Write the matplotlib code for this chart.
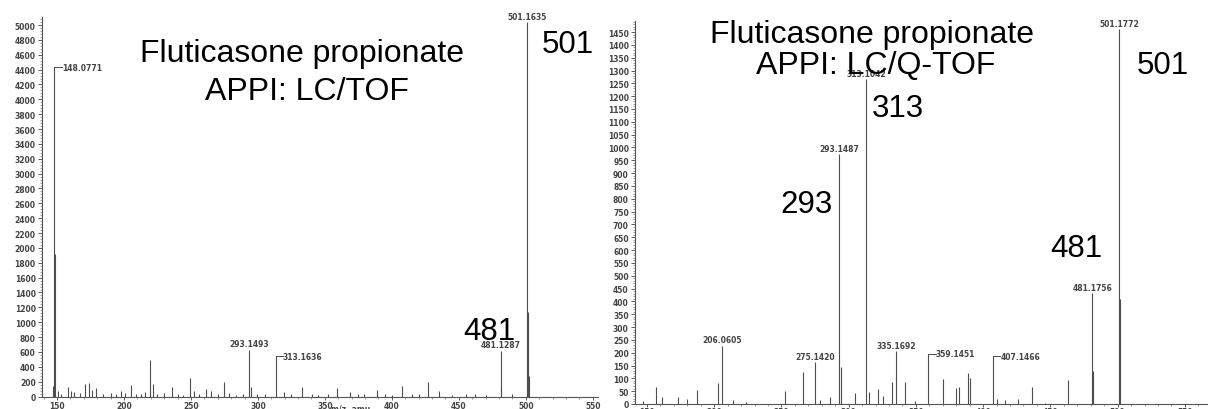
import matplotlib.pyplot as plt
from matplotlib.ticker import MultipleLocator

# ---- LC/TOF spectrum (left panel) ----
tof_mz = [147.0, 148.08, 148.6, 150.8, 153.0, 158.0, 160.7, 163.0, 167.0, 170.6,
          173.6, 176.0, 179.0, 184.0, 190.5, 194.0, 198.0, 201.0, 205.4, 209.0,
          212.8, 216.0, 219.5, 221.5, 225.0, 230.0, 235.6, 240.0, 244.0, 249.6,
          252.0, 256.0, 261.0, 265.0, 270.0, 274.9, 278.6, 284.0, 289.0, 293.15,
          294.6, 299.0, 305.0, 313.16, 319.6, 325.0, 333.0, 340.7, 345.0, 352.0,
          359.0, 369.0, 375.0, 379.0, 389.0, 395.0, 400.0, 407.7, 415.0, 420.0,
          427.0, 435.0, 445.0, 455.0, 462.3, 470.0, 481.13, 481.6, 490.0, 501.16,
          501.6, 502.17]
tof_int = [145, 4435, 1920, 78, 40, 132, 75, 60, 45, 168,
           177, 90, 114, 30, 50, 35, 78, 45, 155, 30,
           40, 60, 491, 168, 35, 50, 124, 30, 25, 245,
           70, 40, 101, 70, 30, 191, 50, 25, 35, 630,
           124, 30, 40, 541, 60, 30, 124, 30, 25, 40,
           114, 60, 30, 40, 87, 35, 25, 145, 40, 30,
           191, 70, 25, 30, 40, 25, 617, 124, 30, 5040,
           1137, 280]
tof_labels = {148.08: '148.0771', 293.15: '293.1493', 313.16: '313.1636',
              481.13: '481.1287', 501.16: '501.1635'}
tof_side = [148.08, 313.16]

# ---- LC/Q-TOF spectrum (right panel) ----
qtof_mz = [147.0, 157.0, 161.0, 173.0, 180.0, 187.0, 203.0, 206.06, 214.0, 224.0,
           253.0, 266.0, 275.14, 279.0, 286.0, 293.15, 294.6, 305.0, 313.10, 315.0,
           322.0, 325.5, 332.0, 335.17, 342.0, 349.0, 359.15, 370.0, 380.0, 382.0,
           389.0, 390.5, 407.15, 410.0, 416.0, 426.0, 436.0, 446.0, 463.0, 481.18,
           481.7, 501.18, 501.6]
qtof_int = [10, 65, 27, 27, 20, 54, 82, 226, 15, 8,
            52, 126, 163, 15, 27, 973, 144, 43, 1265, 45,
            58, 30, 87, 206, 86, 10, 195, 97, 62, 66,
            120, 100, 187, 20, 15, 20, 66, 5, 93, 432,
            128, 1460, 410]
qtof_labels = {206.06: '206.0605', 275.14: '275.1420', 293.15: '293.1487',
               313.10: '313.1042', 335.17: '335.1692', 359.15: '359.1451',
               407.15: '407.1466', 481.18: '481.1756', 501.18: '501.1772'}
qtof_side = [359.15, 407.15]

W, H = 1208, 410
fig = plt.figure(figsize=(W / 100, H / 100), dpi=100)
ax1 = fig.add_axes([42 / W, 12.5 / H, 556 / W, 379.5 / H])
ax2 = fig.add_axes([635 / W, 5 / H, 573 / W, 383 / H])

peak_color = '#4d4d4d'
big = dict(family='Liberation Sans', color='black', ha='center', va='baseline', clip_on=False)


def draw_spectrum(ax, mz, inten, labels, side, ymax, ystep, yminor, xlim, xpad):
    ax.vlines(mz, 0, inten, color=peak_color, lw=0.8)
    ax.set_xlim(*xlim)
    ax.set_ylim(0, ymax)
    ax.yaxis.set_major_locator(MultipleLocator(ystep))
    ax.yaxis.set_minor_locator(MultipleLocator(yminor))
    ax.xaxis.set_major_locator(MultipleLocator(50))
    ax.xaxis.set_minor_locator(MultipleLocator(10))
    for s in ['top', 'right']:
        ax.spines[s].set_visible(False)
    for s in ['left', 'bottom']:
        ax.spines[s].set_color('#555555')
        ax.spines[s].set_linewidth(0.8)
    ax.tick_params(which='major', labelsize=5.5, colors='#444444', length=3, width=0.6, pad=1.5)
    ax.tick_params(which='minor', colors='#777777', length=1.5, width=0.5)
    ax.tick_params(axis='x', which='major', length=2, pad=xpad)
    for lab in ax.get_yticklabels() + ax.get_xticklabels():
        lab.set_fontweight('bold')
    dx = (xlim[1] - xlim[0]) / 75
    dy = ymax * 0.004
    for m, txt in labels.items():
        h = inten[mz.index(m)]
        if m in side:
            ax.plot([m, m + dx], [h, h], color=peak_color, lw=0.7)
            ax.text(m + dx, h, txt, fontsize=5.5, fontweight='bold', color='#444444',
                    ha='left', va='center')
        else:
            ax.text(m, h + dy, txt, fontsize=5.5, fontweight='bold', color='#444444',
                    ha='center', va='bottom')


draw_spectrum(ax1, tof_mz, tof_int, tof_labels, tof_side, 5108, 200, 40, (138.8, 553.9), 1.0)
draw_spectrum(ax2, qtof_mz, qtof_int, qtof_labels, qtof_side, 1493, 50, 10, (141.1, 567.2), 0.2)

# left panel annotations
ax1.text(332.7, 4516, 'Fluticasone propionate', fontsize=23, **big)
ax1.text(336.4, 4004, 'APPI: LC/TOF', fontsize=23, **big)
ax1.text(531.5, 4637, '501', fontsize=22.5, **big)
ax1.text(472.7, 774, '481', fontsize=22.5, **big)
ax1.text(369, -101, 'm/z, amu', fontsize=5.5, fontweight='bold', color='#444444',
         ha='center', va='top', clip_on=False)

# right panel annotations
ax2.text(317.4, 1411, 'Fluticasone propionate', fontsize=23, **big)
ax2.text(320.3, 1290, 'APPI: LC/Q-TOF', fontsize=23, **big)
ax2.text(336.7, 1122, '313', fontsize=22.5, **big)
ax2.text(268.3, 748, '293', fontsize=22.5, **big)
ax2.text(469.0, 577, '481', fontsize=22.5, **big)
ax2.text(533.7, 1290, '501', fontsize=22.5, **big)

fig.savefig('out.png', dpi=100)
